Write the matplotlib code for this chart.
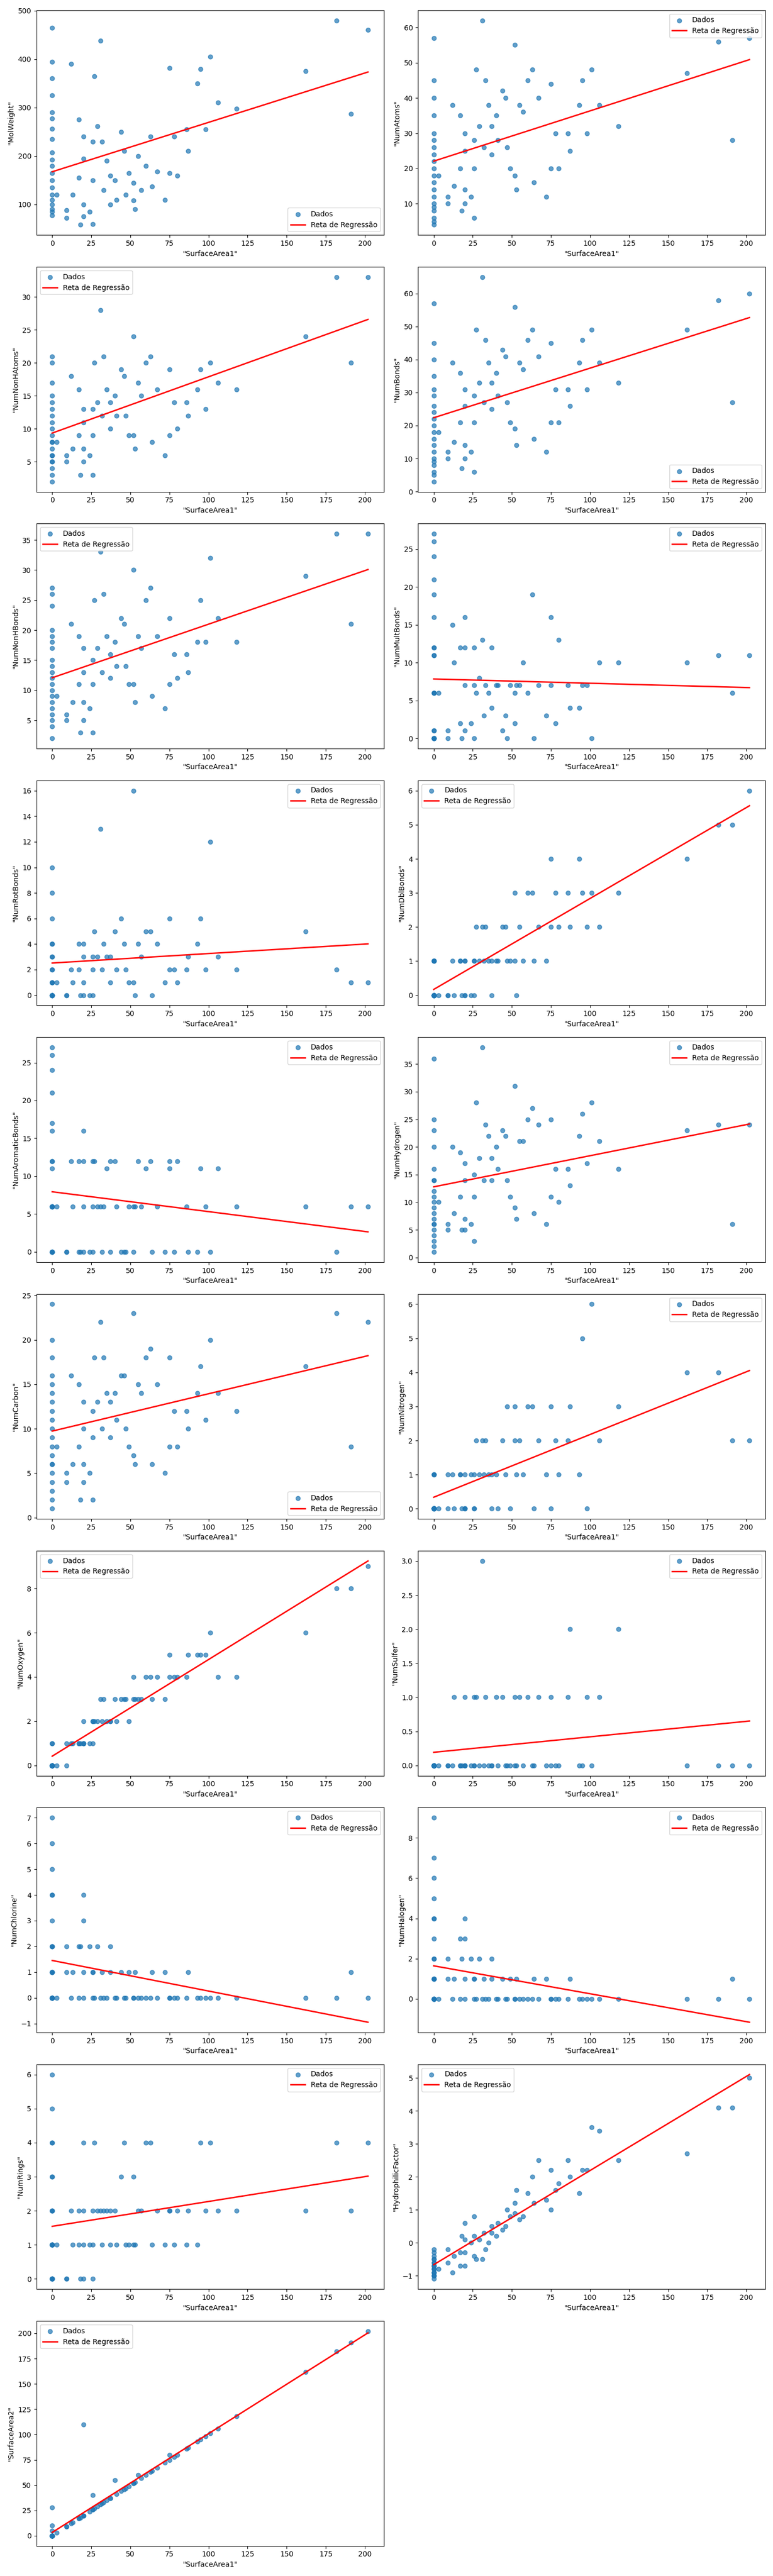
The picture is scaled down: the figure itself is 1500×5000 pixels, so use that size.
import matplotlib
matplotlib.use("Agg")
import matplotlib.pyplot as plt
import numpy as np

Z = [0]*20
x_sa1 = Z + [3,9,9,12,13,17,17,18,20,20,20,20,24,26,26,26,27,29,31,32,33,35,37,37,40,41,44,46,47,49,52,52,53,55,57,60,63,64,67,72,75,75,78,80,86,87,93,95,98,101,106,118,162,182,191,202]

mol_weight = [465,395,360,325,290,278,256,235,207,192,180,165,150,135,120,110,100,90,85,78,
 120,88,72,390,120,275,155,58,240,195,100,75,85,230,150,60,365,262,438,230,385,315,270,190,270,210,345,340,220,165,390,145,108,330,305,385,395,137,318,110,382,165,240,160,255,210,350,380,255,405,310,298,375,480,287,460]
mol_weight[20:60] = [120,88,72,390,120,275,155,58,240,195,100,75,85,230,150,60,365,262,438,230,
 130,190,100,160,150,110,250,210,120,165,145,108,90,200,130,180,240,137,168,110]
num_atoms = [57,45,40,35,30,28,26,24,22,20,18,16,14,12,10,9,8,6,5,4,
 18,12,10,38,15,35,20,8,30,25,14,10,12,28,20,6,48,32,62,26,45,38,32,24,35,28,42,40,26,20,55,18,14,38,36,45,48,16,40,12,44,20,30,20,30,25,38,45,30,48,38,32,47,56,28,57]
num_nonh_atoms = [21,20,17,15,14,13,12,11,10,9,8,8,7,6,6,5,5,4,3,2,
 8,6,5,18,7,16,9,3,13,11,7,5,6,13,9,3,20,14,28,12,21,16,14,10,15,12,19,18,12,9,24,9,7,17,15,20,21,8,16,6,19,9,14,10,14,12,16,19,13,20,17,16,24,33,20,33]
num_bonds = [57,45,40,35,31,29,26,24,22,20,18,16,14,12,10,9,8,6,5,3,
 18,12,10,39,15,36,21,7,31,26,14,10,12,29,21,6,49,33,65,27,46,39,33,25,36,29,43,41,27,21,56,19,14,39,37,46,49,16,41,12,45,21,31,21,31,26,39,46,31,49,39,33,49,58,27,60]
num_nonh_bonds = [27,26,24,20,19,18,17,15,14,13,12,11,10,9,8,7,6,5,4,2,
 9,6,5,21,8,19,11,3,17,13,8,5,7,15,11,3,25,17,33,13,26,19,16,12,18,14,22,21,14,11,30,11,8,19,17,25,27,9,19,7,22,11,16,12,16,13,18,25,18,32,22,18,29,36,21,36]
num_mult_bonds = [27,26,24,21,19,16,12,12,11,11,6,6,6,1,1,0,0,0,0,0,
 6,0,1,15,10,12,2,0,16,12,7,1,2,12,7,0,6,8,13,3,7,6,12,4,7,7,1,3,0,7,2,6,7,7,10,6,19,0,7,3,16,7,2,13,7,4,4,7,7,0,10,10,10,11,6,11]
num_rot_bonds = [10,8,6,4,4,3,3,2,2,1,1,1,0,0,0,0,0,0,0,0,
 1,0,0,2,1,4,2,0,4,3,1,0,0,3,2,0,5,3,13,2,4,3,3,1,5,2,6,4,2,1,16,1,0,4,3,5,5,0,4,1,6,2,2,1,2,3,4,6,2,12,3,2,5,2,1,1]
num_dbl_bonds = [1,1,1,1,0,0,0,0,0,0,0,0,0,0,0,0,0,0,0,0,
 0,0,0,1,0,1,1,0,1,1,0,0,0,1,1,0,2,1,2,1,2,1,1,0,1,1,2,2,1,1,3,1,0,2,1,3,3,1,2,1,4,2,3,2,3,2,4,3,2,3,2,3,4,5,5,6]
num_arom_bonds = [27,26,24,21,17,16,12,12,11,6,6,6,6,6,6,0,0,0,0,0,
 6,0,0,12,6,12,0,0,16,12,6,0,0,12,6,0,12,6,6,0,6,11,12,0,12,6,0,0,0,6,0,6,6,12,6,11,12,0,6,0,12,11,0,12,6,0,0,11,6,0,11,6,6,0,6,6]
num_hydrogen = [36,25,23,20,16,14,14,12,11,10,9,8,7,6,6,5,4,3,2,1,
 10,6,5,20,8,19,11,5,17,14,7,5,6,15,11,3,28,18,38,14,24,22,18,14,20,16,23,22,14,11,31,9,7,21,21,25,27,8,24,6,25,11,16,10,16,13,22,26,17,28,21,16,23,24,6,24]
num_carbon = [24,20,18,16,15,14,13,12,11,10,9,8,7,6,6,5,4,3,2,1,
 8,5,4,16,6,15,8,2,13,10,6,4,5,12,9,2,18,13,22,10,18,14,13,9,14,11,16,16,10,8,23,7,6,15,14,18,19,6,15,5,18,8,12,8,12,10,14,17,11,20,14,12,17,23,8,22]
num_nitrogen = [1,1,1,0,0,0,0,0,0,0,0,0,0,0,0,0,0,0,0,0,
 0,0,1,1,0,1,1,0,1,0,0,0,1,1,0,0,2,1,2,1,2,1,0,1,1,0,2,1,3,0,3,2,1,2,1,3,3,0,2,1,3,0,2,1,2,3,1,5,0,6,2,3,4,4,2,2]
num_oxygen = [1,1,0,0,0,0,0,0,0,0,0,0,0,0,0,0,0,0,0,0,
 0,0,1,1,1,1,1,1,2,1,1,1,1,2,2,1,2,2,3,2,3,2,2,2,3,2,3,3,3,2,4,3,3,3,3,4,4,3,4,3,5,4,4,4,4,5,5,5,5,6,4,4,6,8,8,9]
num_sulfer = [0]*20 + [0,0,0,0,1,0,0,0,1,0,0,0,0,1,0,0,1,0,3,0,1,0,0,0,1,0,1,0,0,0,1,0,0,1,0,1,0,0,1,0,1,0,0,0,1,2,0,0,1,0,1,2,0,0,0,0]
num_chlorine = [7,6,5,4,4,3,2,2,2,1,1,1,1,0,0,0,0,0,0,0,
 0,1,2,0,1,0,2,2,0,1,4,3,2,1,0,1,0,2,0,1,0,0,1,2,0,0,1,0,0,1,0,0,1,0,0,0,0,1,0,1,0,0,0,0,0,1,0,0,0,0,0,0,0,0,1,0]
num_halogen = [9,7,6,5,4,4,3,2,2,1,1,1,1,0,0,0,0,0,0,0,
 0,1,2,0,1,0,3,2,0,1,4,3,2,1,0,1,0,2,0,1,0,0,1,2,0,0,1,0,0,1,0,0,1,0,0,0,0,1,0,1,0,0,0,0,0,1,0,0,0,0,0,0,0,0,1,0]
num_rings = [6,5,4,4,3,3,2,2,2,1,1,1,1,1,1,0,0,0,0,0,
 1,0,0,2,1,2,1,0,4,2,1,0,1,2,1,0,4,2,2,1,2,2,2,1,2,1,3,4,1,1,3,1,1,2,2,4,4,1,2,1,2,2,1,2,1,2,1,4,2,4,2,2,2,4,2,4]
hydrophilic = [-0.2,-0.4,-0.5,-0.6,-0.7,-0.7,-0.8,-0.8,-0.9,-0.9,-1.0,-1.0,-1.0,-1.1,-0.6,-0.3,-0.5,-0.9,-0.8,-0.7,
 -0.8,-0.6,-0.2,-0.9,-0.4,-0.7,-0.3,0.2,-0.7,-0.3,0.1,0.6,0.0,-0.4,0.2,0.8,-0.5,0.1,-0.5,0.3,-0.2,0.0,0.3,0.5,0.2,0.6,0.4,0.5,1.0,0.8,1.2,0.9,1.6,0.7,0.8,1.5,2.0,1.2,2.5,1.3,2.2,1.0,1.6,1.8,2.5,2.0,1.5,2.2,2.2,3.5,3.4,2.5,2.7,4.1,4.1,5.0]
surface_area2 = [28,10,5,0,0,0,0,0,0,0,0,0,0,0,0,0,0,0,0,0,
 3,9,9,12,13,17,17,18,20,110,20,20,24,26,26,40,27,29,31,32,33,35,37,37,55,41,44,46,47,49,52,52,53,60,57,60,63,64,67,72,75,80,78,80,86,87,93,95,98,101,106,118,162,182,191,202]

series = [('"MolWeight"', mol_weight), ('"NumAtoms"', num_atoms), ('"NumNonHAtoms"', num_nonh_atoms),
 ('"NumBonds"', num_bonds), ('"NumNonHBonds"', num_nonh_bonds), ('"NumMultBonds"', num_mult_bonds),
 ('"NumRotBonds"', num_rot_bonds), ('"NumDblBonds"', num_dbl_bonds), ('"NumAromaticBonds"', num_arom_bonds),
 ('"NumHydrogen"', num_hydrogen), ('"NumCarbon"', num_carbon), ('"NumNitrogen"', num_nitrogen),
 ('"NumOxygen"', num_oxygen), ('"NumSulfer"', num_sulfer), ('"NumChlorine"', num_chlorine),
 ('"NumHalogen"', num_halogen), ('"NumRings"', num_rings), ('"HydrophilicFactor"', hydrophilic),
 ('"SurfaceArea2"', surface_area2)]

fig, axes = plt.subplots(10, 2, figsize=(15, 50))
axes = axes.ravel()
x = np.array(x_sa1, dtype=float)
for ax, (name, y) in zip(axes, series):
    y = np.array(y, dtype=float)
    ax.scatter(x, y, alpha=0.7, label='Dados')
    m, b = np.polyfit(x, y, 1)
    ax.plot(x, m * x + b, color='red', linewidth=2, label='Reta de Regressão')
    ax.set_xlabel('"SurfaceArea1"')
    ax.set_ylabel(name)
    ax.legend(loc='best')
axes[-1].remove()
plt.tight_layout()
fig.savefig('out.png', dpi=100)
